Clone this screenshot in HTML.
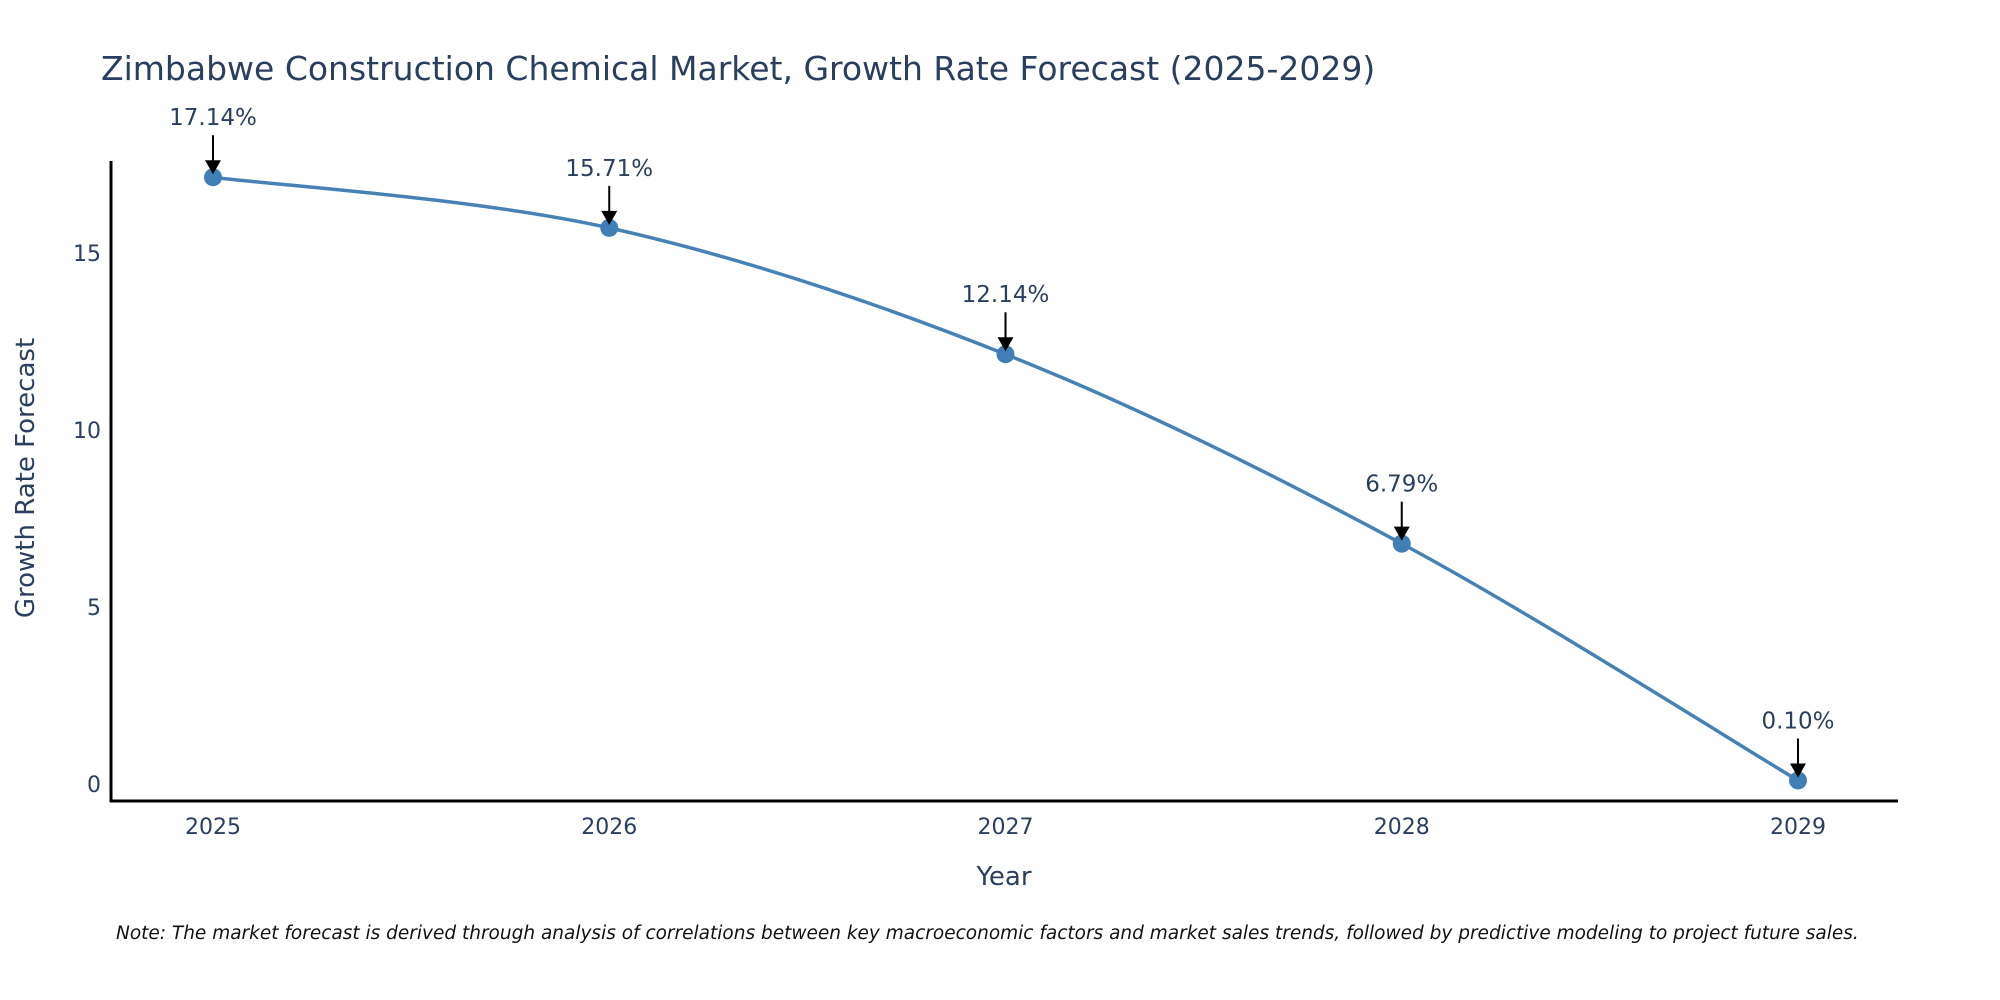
<!DOCTYPE html>
<html><head><meta charset="utf-8"><style>
body{margin:0;background:#fff;}
svg{display:block;font-family:"DejaVu Sans","Liberation Sans",sans-serif;}
</style></head><body>
<svg id="chart" width="2000" height="1000" viewBox="0 0 2000 1000">
<text x="101" y="80" font-size="33" fill="#2a3f5f">Zimbabwe Construction Chemical Market, Growth Rate Forecast (2025-2029)</text>
<g id="yticks"></g>
<g id="xticks"></g>
<line x1="111" y1="161" x2="111" y2="802" stroke="#000" stroke-width="3"/>
<line x1="110" y1="801" x2="1898" y2="801" stroke="#000" stroke-width="3"/>
<path id="line" fill="none" stroke="#4682b4" stroke-width="3.5"/>
<g id="points"></g>
<g id="annos"></g>
<text x="1004" y="885" font-size="26" fill="#2a3f5f" text-anchor="middle">Year</text>
<text transform="translate(34,478) rotate(-90)" font-size="26" fill="#2a3f5f" text-anchor="middle">Growth Rate Forecast</text>
<text x="116" y="939" font-size="18.5" font-style="italic" fill="#111">Note: The market forecast is derived through analysis of correlations between key macroeconomic factors and market sales trends, followed by predictive modeling to project future sales.</text>
</svg>
<script>
const years = [2025, 2026, 2027, 2028, 2029];
const values = [17.14, 15.71, 12.14, 6.79, 0.10];
const labels = ["17.14%", "15.71%", "12.14%", "6.79%", "0.10%"];
const yTicks = [0, 5, 10, 15];
const NS = "http://www.w3.org/2000/svg";
const xs = v => 213 + (v - 2025) * 396.25;
const ys = v => 784 - v * 35.4;
function mk(tag, attrs, parent){const e=document.createElementNS(NS,tag);for(const k in attrs)e.setAttribute(k,attrs[k]);parent.appendChild(e);return e;}
const yt=document.getElementById('yticks');
yTicks.forEach(t=>{const e=mk('text',{x:101,y:ys(t)+8,'font-size':22,fill:'#2a3f5f','text-anchor':'end'},yt);e.textContent=t;

});
const xt=document.getElementById('xticks');
years.forEach(y=>{const e=mk('text',{x:xs(y),y:834,'font-size':22,fill:'#2a3f5f','text-anchor':'middle'},xt);e.textContent=y;

});
const P=years.map((y,i)=>[xs(y),ys(values[i])]);
let d=`M${P[0][0]},${P[0][1]}`;
for(let i=0;i<P.length-1;i++){const p0=P[Math.max(i-1,0)],p1=P[i],p2=P[i+1],p3=P[Math.min(i+2,P.length-1)];
const c1=[p1[0]+(p2[0]-p0[0])/6,p1[1]+(p2[1]-p0[1])/6],c2=[p2[0]-(p3[0]-p1[0])/6,p2[1]-(p3[1]-p1[1])/6];
d+=` C${c1[0]},${c1[1]} ${c2[0]},${c2[1]} ${p2[0]},${p2[1]}`;}
document.getElementById('line').setAttribute('d',d);
const pg=document.getElementById('points'),ag=document.getElementById('annos');
P.forEach((p,i)=>{const c=mk('circle',{cx:p[0],cy:p[1],r:9,fill:'#3f7fb5'},pg);


const l=mk('line',{x1:p[0],y1:p[1]-42,x2:p[0],y2:p[1]-14,stroke:'#000','stroke-width':2},ag);


const h=mk('polygon',{points:`${p[0]-8},${p[1]-17} ${p[0]+8},${p[1]-17} ${p[0]},${p[1]-3}`,fill:'#000'},ag);


const t=mk('text',{x:p[0],y:p[1]-52,'font-size':23,fill:'#2a3f5f','text-anchor':'middle'},ag);t.textContent=labels[i];

});
</script>
</body></html>
